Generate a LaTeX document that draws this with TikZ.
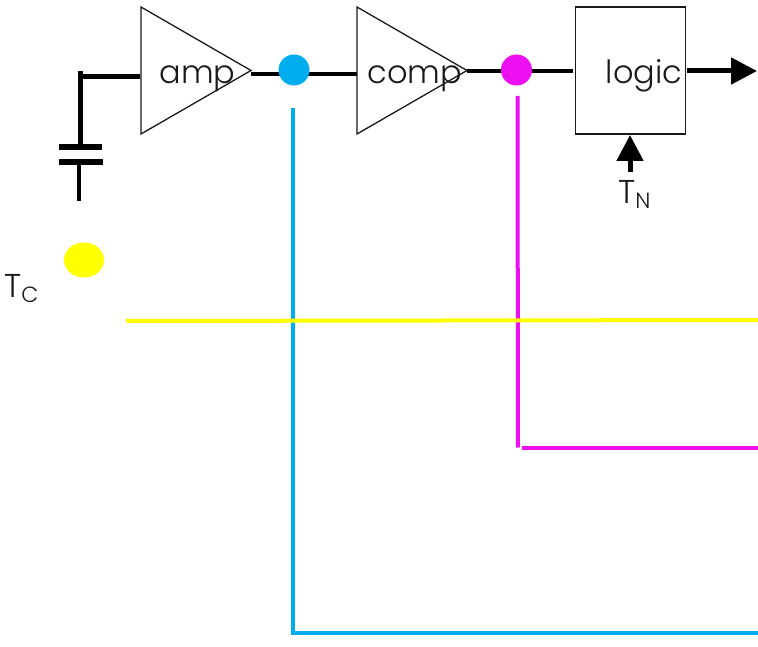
\documentclass[tikz,border=0pt]{standalone}
\usepackage{fontspec}
\setmainfont{Poppins Light}
\definecolor{cblue}{RGB}{0,174,239}
\definecolor{cmag}{RGB}{236,15,240}
\definecolor{cyel}{RGB}{255,255,0}
\usetikzlibrary{arrows.meta,shapes.geometric}
\newcommand{\subtxt}[2]{\raisebox{#1}{\fontsize{22}{22}\selectfont #2}}
\tikzset{
  x=1pt,y=-1pt,
  lbl/.style={inner sep=0pt,anchor=base,font=\fontsize{32}{32}\selectfont,text=black!90},
  sublbl/.style={inner sep=0pt,anchor=base west,font=\fontsize{33}{33}\selectfont,text=black!90},
  outline/.style={draw=black!90,line width=1.3pt,line join=miter},
  wire/.style={draw=black,line width=4.6pt},
  plate/.style={draw=black,line width=6pt},
  tapblue/.style={draw=cblue,line width=4pt,line join=miter},
  tapmag/.style={draw=cmag,line width=4pt},
  tapyel/.style={draw=cyel,line width=4pt},
  headtip/.style={-{Triangle[length=26pt,width=26pt]},line width=5pt,draw=black,shorten >=0pt}
}
\begin{document}
\begin{tikzpicture}
\useasboundingbox (0,0) rectangle (758,647);
% anchors
\coordinate (inTop) at (80.5,71);
\coordinate (inCorner) at (80.5,76.5);
\coordinate (inEnd) at (140,76.5);
\coordinate (capTop) at (80.5,145);
\coordinate (p1a) at (58.5,147.5);
\coordinate (p1b) at (102,147.5);
\coordinate (p2a) at (59,162.5);
\coordinate (p2b) at (102.5,162.5);
\coordinate (capBot) at (79,165);
\coordinate (gnd) at (79,201.5);
\coordinate (ampA) at (141,7);
\coordinate (ampB) at (251,70.5);
\coordinate (ampC) at (141,134);
\coordinate (compA) at (357,7);
\coordinate (compB) at (467,70.5);
\coordinate (compC) at (357,134);
\coordinate (ampOut) at (251,74);
\coordinate (compIn) at (357,74);
\coordinate (compOut) at (467,71);
\coordinate (logicIn) at (573,71);
\coordinate (outEnd) at (757,71);
\coordinate (outStart) at (686.5,71);
\coordinate (tnStart) at (630,172);
\coordinate (tnEnd) at (630,135);
\coordinate (blueTop) at (293,108);
\coordinate (blueCorner) at (293,633);
\coordinate (blueEnd) at (758,633);
\coordinate (magTop) at (517.5,96);
\coordinate (magBot) at (518,447.5);
\coordinate (magStart) at (522,448);
\coordinate (magEnd) at (758,448);
\coordinate (yelStart) at (126,321);
\coordinate (yelEnd) at (758,320);
% coloured taps
\draw[tapblue] (blueTop) -- (blueCorner) -- (blueEnd);
\draw[tapmag] (magTop) -- (magBot);
\draw[tapmag] (magStart) -- (magEnd);
\draw[tapyel] (yelStart) -- (yelEnd);
% input
\draw[wire,line cap=butt] (inTop) -- (capTop);
\draw[wire] (inCorner) -- (inEnd);
\draw[plate] (p1a) -- (p1b);
\draw[plate] (p2a) -- (p2b);
\draw[draw=black,line width=4pt] (capBot) -- (gnd);
% signal chain
\draw[wire] (ampOut) -- (compIn);
\draw[wire] (compOut) -- (logicIn);
\node[circle,fill=cblue,minimum size=31pt,inner sep=0pt] (bdot) at (294,70) {};
\node[circle,fill=cmag,minimum size=31pt,inner sep=0pt] (mdot) at (516.5,70) {};
\node[ellipse,fill=cyel,minimum width=40pt,minimum height=35pt,inner sep=0pt] (ydot) at (84,260) {};
% blocks
\draw[outline] (ampA) -- (ampB) -- (ampC) -- cycle;
\draw[outline] (compA) -- (compB) -- (compC) -- cycle;
\node[draw=black!90,line width=1.3pt,minimum width=109.5pt,minimum height=127pt,inner sep=0pt] (logicbox) at (630.5,70.5) {};
\node[lbl] (amp) at (197.5,84) {amp};
\node[lbl] (comp) at (415,84) {comp};
\node[lbl] (logic) at (644,84) {logic};
% outputs
\draw[headtip] (outStart) -- (outEnd);
\draw[headtip] (tnStart) -- (tnEnd);
% labels
\node[sublbl] (tc) at (4,297.5) {T\subtxt{-5pt}{C}};
\node[sublbl] (tn) at (618,204) {T\subtxt{-5pt}{N}};
\end{tikzpicture}
\end{document}
